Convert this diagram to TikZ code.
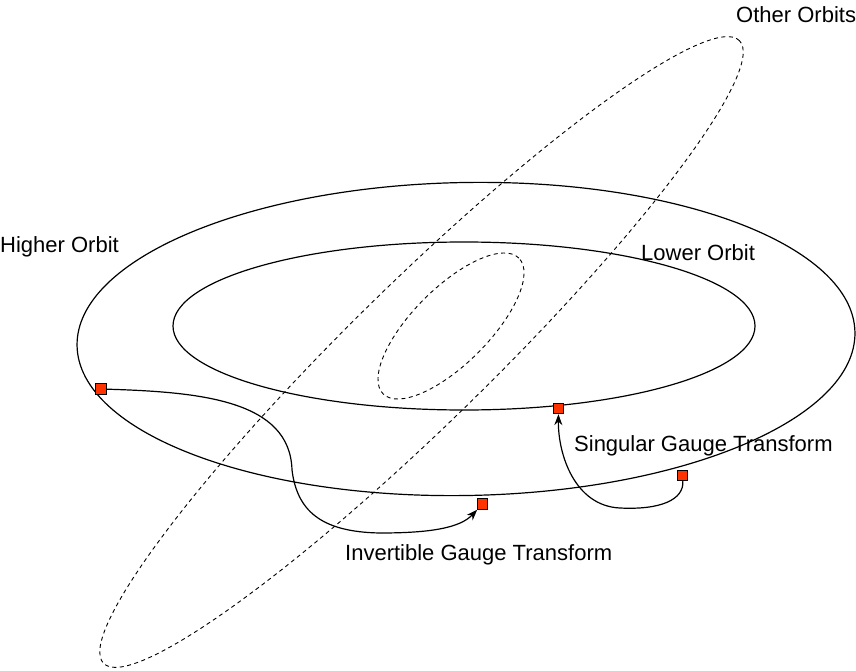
\documentclass[tikz,border=0pt]{standalone}
\usepackage{fontspec}
\setmainfont{Liberation Sans}
\usetikzlibrary{arrows.meta}
\definecolor{gaugered}{RGB}{255,51,0}

\begin{document}
\begin{tikzpicture}[x=1pt, y=1pt, >={Stealth[length=11pt,width=8pt]},
  orbit/.style={line width=1.2pt},
  other/.style={line width=0.9pt, dash pattern=on 4pt off 3.5pt},
  gauge/.style={rectangle, draw, line width=0.8pt, fill=gaugered, minimum size=10.5pt, inner sep=0pt},
  tag/.style={inner sep=0pt, anchor=base west, font=\fontsize{22pt}{26pt}\selectfont}]
  \useasboundingbox (0,0) rectangle (856,-671);

  \draw[orbit, rotate around={1:(466,-339)}] (466,-339) ellipse [x radius=389pt, y radius=156.5pt];
  \draw[orbit] (464,-326) ellipse [x radius=291pt, y radius=84pt];
  \draw[other, rotate around={44.4:(421.5,-352)}] (421.5,-352) ellipse [x radius=445pt, y radius=70pt];
  \draw[other, rotate around={45:(451,-326)}] (451,-326) ellipse [x radius=96pt, y radius=38pt];

  \node[gauge] (hi1) at (101,-389)   {};
  \node[gauge] (hi2) at (482.5,-504) {};
  \node[gauge] (hi3) at (682.5,-475.5) {};
  \node[gauge] (lo1) at (558.5,-408.5) {};

  \node[tag] (higher)     at (0,-252)   {Higher Orbit};
  \node[tag] (lower)      at (641,-260) {Lower Orbit};
  \node[tag] (others)     at (736,-23)  {Other Orbits};
  \node[tag] (singular)   at (574,-451) {Singular Gauge Transform};
  \node[tag] (invertible) at (345,-560) {Invertible Gauge Transform};

  \draw[orbit, ->] (hi1) .. controls (200,-392) and (290,-400) .. (292,-470)
                         .. controls (297,-510) and (320,-532) .. (380,-533)
                         .. controls (430,-533) and (460,-528) .. (hi2);
  \draw[orbit, ->] (hi3) .. controls (684,-500) and (660,-510) .. (620,-508)
                         .. controls (575,-506) and (558,-455) .. (lo1);
\end{tikzpicture}
\end{document}
